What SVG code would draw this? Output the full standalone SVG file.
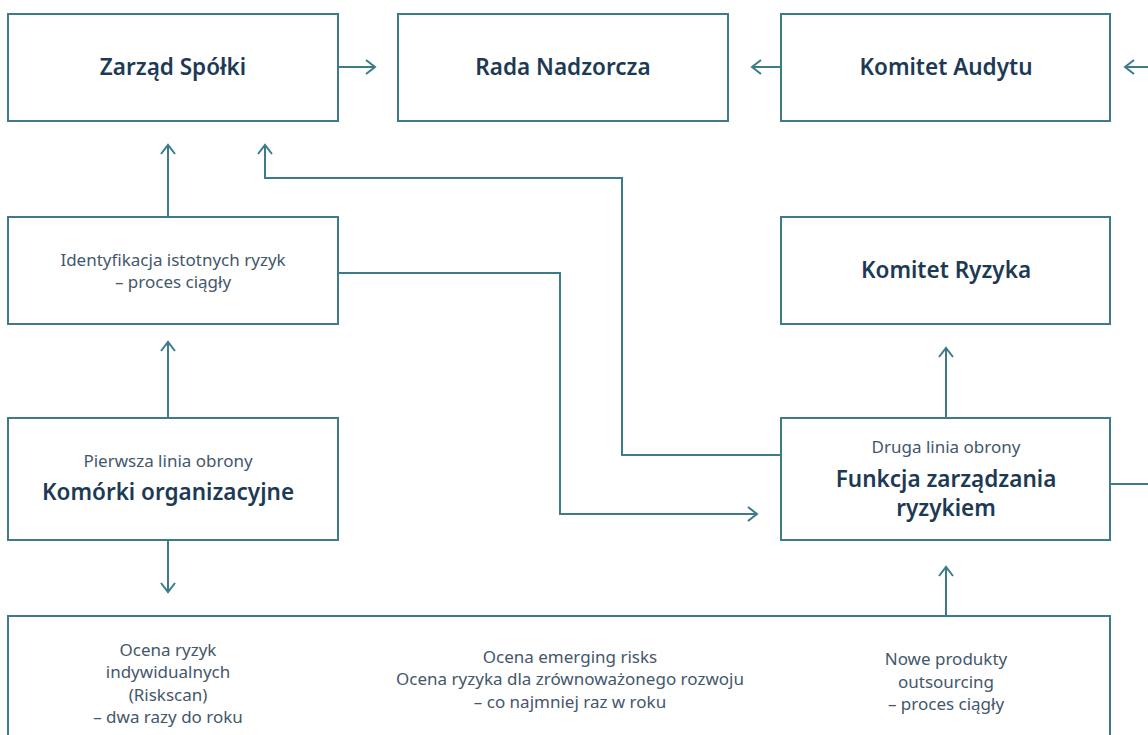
<svg xmlns="http://www.w3.org/2000/svg" width="1148" height="735" viewBox="0 0 1148 735">
<style>
.box{fill:#fff;stroke:#3d7b88;stroke-width:2}
.ln{fill:none;stroke:#3d7b88;stroke-width:2}
.t{font-family:"Noto Sans","Open Sans",sans-serif;font-weight:600;font-size:22.5px;fill:#1d3a55;text-anchor:middle}
.s{font-family:"Noto Sans","Open Sans",sans-serif;font-weight:400;font-size:17px;fill:#44576b;text-anchor:middle}
</style>
<defs>
<marker id="ah" viewBox="-11 -8 13 16" refX="0" refY="0" markerWidth="13" markerHeight="16" markerUnits="userSpaceOnUse" orient="auto">
<path d="M-9,-7 L0,0 L-9,7" fill="none" stroke="#3d7b88" stroke-width="2"/>
</marker>
</defs>
<rect width="1148" height="735" fill="#fff"/>
<g id="connectors">
<path class="ln" d="M338,67 H375" marker-end="url(#ah)"/>
<path class="ln" d="M781,67 H752" marker-end="url(#ah)"/>
<path class="ln" d="M1148,67 H1125" marker-end="url(#ah)"/>
<path class="ln" d="M168,217 V145" marker-end="url(#ah)"/>
<path class="ln" d="M781,455 H622 V178 H265 V145" marker-end="url(#ah)"/>
<path class="ln" d="M338,273 H560 V514 H757" marker-end="url(#ah)"/>
<path class="ln" d="M168,418 V342" marker-end="url(#ah)"/>
<path class="ln" d="M168,540 V592" marker-end="url(#ah)"/>
<path class="ln" d="M946,418 V348" marker-end="url(#ah)"/>
<path class="ln" d="M946,616 V567" marker-end="url(#ah)"/>
<path class="ln" d="M1110,484 H1148"/>
</g>
<g id="zarzad">
<rect class="box" x="8" y="14" width="330" height="107"/>
<text class="t" x="173" y="75">Zarząd Spółki</text>
</g>
<g id="rada">
<rect class="box" x="398" y="14" width="330" height="107"/>
<text class="t" x="563" y="75">Rada Nadzorcza</text>
</g>
<g id="komitet-audytu">
<rect class="box" x="781" y="14" width="329" height="107"/>
<text class="t" x="946" y="75">Komitet Audytu</text>
</g>
<g id="identyfikacja">
<rect class="box" x="8" y="217" width="330" height="107"/>
<text class="s" x="173" y="266">Identyfikacja istotnych ryzyk</text>
<text class="s" x="173" y="288">– proces ciągły</text>
</g>
<g id="komitet-ryzyka">
<rect class="box" x="781" y="217" width="329" height="107"/>
<text class="t" x="946" y="278">Komitet Ryzyka</text>
</g>
<g id="komorki">
<rect class="box" x="8" y="418" width="330" height="122"/>
<text class="s" x="168" y="467">Pierwsza linia obrony</text>
<text class="t" x="168" y="500">Komórki organizacyjne</text>
</g>
<g id="funkcja">
<rect class="box" x="781" y="418" width="329" height="122"/>
<text class="s" x="946" y="453">Druga linia obrony</text>
<text class="t" x="946" y="487">Funkcja zarządzania</text>
<text class="t" x="946" y="516">ryzykiem</text>
</g>
<g id="oceny">
<rect class="box" x="8" y="616" width="1102" height="140"/>
<text class="s" x="168" y="656">Ocena ryzyk</text>
<text class="s" x="168" y="678">indywidualnych</text>
<text class="s" x="168" y="701">(Riskscan)</text>
<text class="s" x="168" y="723">– dwa razy do roku</text>
<text class="s" x="570" y="663">Ocena emerging risks</text>
<text class="s" x="570" y="685">Ocena ryzyka dla zrównoważonego rozwoju</text>
<text class="s" x="570" y="708">– co najmniej raz w roku</text>
<text class="s" x="946" y="665">Nowe produkty</text>
<text class="s" x="946" y="688">outsourcing</text>
<text class="s" x="946" y="710">– proces ciągły</text>
</g>
</svg>
